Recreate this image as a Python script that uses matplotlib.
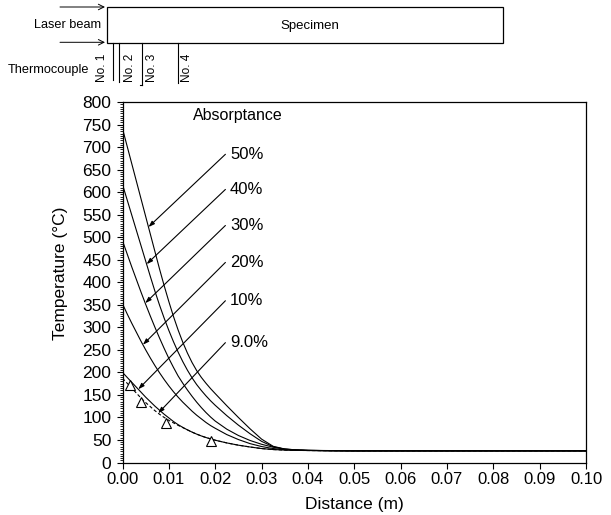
import numpy as np
import matplotlib.pyplot as plt
from matplotlib.patches import Rectangle
from matplotlib.ticker import MultipleLocator

plt.rcParams['font.family'] = ['Liberation Sans', 'DejaVu Sans']

# Distance from the irradiated face (m)
dist = [0.0, 0.001, 0.002, 0.003, 0.004, 0.005, 0.006, 0.007, 0.008, 0.009,
        0.010, 0.011, 0.012, 0.013, 0.014, 0.015, 0.016, 0.017, 0.018, 0.019,
        0.020, 0.0225, 0.025, 0.0275, 0.030, 0.0325, 0.035, 0.0375, 0.040,
        0.045, 0.050, 0.100]

# Calculated temperature profiles (deg C) for each absorptance
t_50 = [741, 702, 663, 624, 585, 546, 507, 468, 429, 392, 357, 324, 294, 267, 243, 222,
        204, 189, 176, 164, 153, 126, 100, 75, 52, 36, 30, 28, 27, 26.5, 26, 26]
t_40 = [617, 583, 549, 515, 481, 447, 413, 380, 349, 320, 293, 268, 245, 224, 205, 188,
        173, 160, 148, 137, 127, 104, 83, 64, 47, 35, 29.5, 27.5, 26.8, 26.3, 26, 26]
t_30 = [492, 463, 434, 406, 378, 351, 325, 300, 276, 253, 231, 211, 192, 176, 161, 147,
        134, 122, 111, 101, 92, 74, 60, 49, 40.5, 34, 30, 28, 27, 26.3, 26, 26]
t_20 = [352, 330, 309, 289, 269, 250, 232, 215, 199, 184, 170, 157, 145, 134, 124, 114,
        105, 97, 89, 82, 76, 62, 51, 42, 35.5, 31, 28.5, 27.3, 26.8, 26.3, 26, 26]
t_10 = [200, 189, 178, 167, 156, 145, 135, 125, 116, 107, 99, 91, 84, 78, 72.5, 67.5,
        63, 59, 55.5, 52.5, 49.5, 43.5, 38.5, 34.5, 31, 28.8, 27.6, 27, 26.6, 26.2, 26, 26]
t_9 = [187, 176, 165, 154, 143, 133, 124, 115, 107, 100, 93.5, 88, 82.5, 77.5, 72.5, 67.5,
       63, 59, 55.5, 52.5, 49.5, 43.5, 38.5, 34.5, 31, 28.8, 27.6, 27, 26.6, 26.2, 26, 26]

# Thermocouple readings
tc_x = [0.0016, 0.0040, 0.0094, 0.0192]
tc_t = [172, 134, 87, 47.5]

labels = ['50%', '40%', '30%', '20%', '10%', '9.0%']
curves = [t_50, t_40, t_30, t_20, t_10, t_9]
head_x = [0.0056, 0.0052, 0.0049, 0.0044, 0.0034, 0.0077]
tail_t = [684, 606, 526, 444, 359, 266]

fig = plt.figure(figsize=(6.11, 5.15), dpi=100)

# specimen sketch above the plot, in figure pixels
sk = fig.add_axes([0, 0, 1, 1])
sk.set_xlim(0, 611)
sk.set_ylim(515, 0)
sk.axis('off')
sk.add_patch(Rectangle((107.3, 6.7), 396, 36.6, fill=False, lw=0.9, ec='black'))
for yy in (7, 42.3):
    sk.annotate('', xy=(105, yy), xytext=(60, yy),
                arrowprops=dict(arrowstyle='->', lw=0.7, color='black',
                                shrinkA=0, shrinkB=0))
sk.text(101, 25, 'Laser beam', ha='right', va='center', fontsize=9.2)
sk.text(310, 26, 'Specimen', ha='center', va='center', fontsize=9.5)
sk.text(89, 70, 'Thermocouple', ha='right', va='center', fontsize=9.2)
for xx, y1 in zip([112.7, 119.3, 142.3, 177.7], [80, 82, 85, 83]):
    sk.plot([xx, xx], [43.3, y1], color='black', lw=0.8)
sk.plot([139.5, 142.3], [85, 85], color='black', lw=0.8)
for xx, name in zip([101.7, 130, 151.7, 187.3], ['No. 1', 'No. 2', 'No. 3', 'No. 4']):
    sk.text(xx, 68, name, rotation=90, ha='center', va='center', fontsize=8.5)

ax = fig.add_axes([0.2005, 0.1019, 0.7586, 0.700])

for lab, t in zip(labels, curves):
    if lab == '9.0%':
        ax.plot(dist, t, color='black', lw=0.8, ls=(0, (3, 2)))
    else:
        ax.plot(dist, t, color='black', lw=0.8, solid_joinstyle='round')

ax.plot(tc_x, tc_t, ls='none', marker='^', mfc='white', mec='black', ms=7, mew=0.8)

for lab, t, hx, tt in zip(labels, curves, head_x, tail_t):
    hy = np.interp(hx, dist, t)
    ax.annotate('', xy=(hx, hy), xytext=(0.0222, tt),
                arrowprops=dict(arrowstyle='-|>,head_length=0.35,head_width=0.12',
                                lw=0.8, color='black', shrinkA=0, shrinkB=0))
    ax.text(0.0232, tt, lab, ha='left', va='center', fontsize=12)

ax.text(0.0152, 771, 'Absorptance', ha='left', va='center', fontsize=11.5)

ax.set_xlim(0, 0.10)
ax.set_ylim(0, 800)
ax.set_xticks(np.arange(0, 0.1001, 0.01))
ax.set_xticklabels(['%.2f' % v for v in np.arange(0, 0.1001, 0.01)])
ax.yaxis.set_major_locator(MultipleLocator(50))
ax.yaxis.set_minor_locator(MultipleLocator(5))
ax.tick_params(axis='both', which='major', direction='out', length=4, width=0.8)
ax.tick_params(axis='x', labelsize=12, pad=3)
ax.tick_params(axis='y', labelsize=12.5, pad=4)
ax.tick_params(axis='y', which='minor', direction='out', length=2, width=0.6)
for sp in ax.spines.values():
    sp.set_linewidth(0.9)

ax.set_xlabel('Distance (m)', fontsize=12.5)
ax.set_ylabel('Temperature (°C)', fontsize=12.5)
ax.xaxis.set_label_coords(0.5, -0.097)
ax.yaxis.set_label_coords(-0.118, 0.525)

fig.savefig('out.png', dpi=100)
